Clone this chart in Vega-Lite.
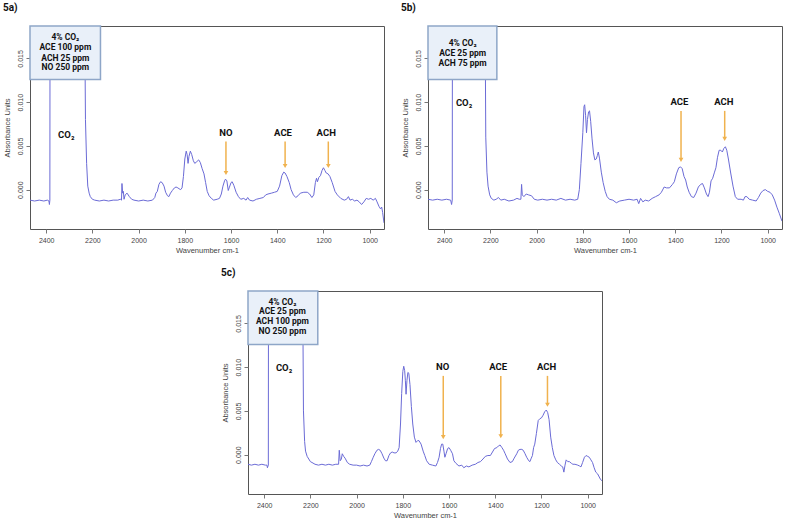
{
"$schema": "https://vega.github.io/schema/vega-lite/v6.json",
"padding": {"left": 2, "top": 2, "right": 0, "bottom": 0},
"background": "white",
"config": {
 "view": {"stroke": "#555", "strokeWidth": 1},
 "axis": {"labelFont": "Liberation Sans", "labelFontSize": 7, "labelColor": "#444", "titleFont": "Liberation Sans", "titleFontSize": 7.5, "titleFontWeight": "normal", "titleColor": "#444", "tickColor": "#777", "tickSize": 4, "domain": false, "grid": false, "labelPadding": 2, "titlePadding": 4, "labelFlush": false, "labelOverlap": false},
 "title": {"font": "Roboto", "fontSize": 10, "fontWeight": "bold", "anchor": "start", "color": "#111", "offset": 12},
 "text": {"font": "Roboto", "fontWeight": "bold", "color": "#111"}
},
"datasets": {
 "specA": [{"x":2470,"y":-0.0012},{"x":2450,"y":-0.0013},{"x":2430,"y":-0.0012},{"x":2410,"y":-0.0013},{"x":2395,"y":-0.0012},{"x":2388,"y":-0.0013},{"x":2386,"y":-0.0017},{"x":2384,"y":-0.0012},{"x":2383,"y":0.03},{"x":2236,"y":0.03},{"x":2230,"y":0.008},{"x":2225,"y":0.003},{"x":2220,"y":0.0004},{"x":2214,"y":-0.0004},{"x":2209,"y":-0.0008},{"x":2200,"y":-0.0011},{"x":2190,"y":-0.0012},{"x":2170,"y":-0.0013},{"x":2150,"y":-0.0012},{"x":2130,"y":-0.0013},{"x":2110,"y":-0.0012},{"x":2090,"y":-0.0012},{"x":2079,"y":-0.0011},{"x":2074,"y":-0.0012},{"x":2072,"y":0.0007},{"x":2069,"y":-0.0004},{"x":2066,"y":-0.0002},{"x":2063,"y":-0.0011},{"x":2058,"y":-0.0006},{"x":2050,"y":-0.0004},{"x":2040,"y":-0.0008},{"x":2030,"y":-0.0011},{"x":2020,"y":-0.0012},{"x":2000,"y":-0.0013},{"x":1980,"y":-0.0012},{"x":1960,"y":-0.0013},{"x":1940,"y":-0.0012},{"x":1930,"y":-0.0009},{"x":1925,"y":-0.0004},{"x":1919,"y":-0.0002},{"x":1912,"y":0.0006},{"x":1905,"y":0.0009},{"x":1898,"y":0.0008},{"x":1890,"y":0.0004},{"x":1883,"y":-0.0003},{"x":1875,"y":-0.0007},{"x":1869,"y":-0.0008},{"x":1862,"y":-0.0004},{"x":1854,"y":-0.0001},{"x":1845,"y":0.0002},{"x":1838,"y":0.0003},{"x":1830,"y":0.0002},{"x":1825,"y":0.0001},{"x":1818,"y":0.0},{"x":1812,"y":0.0002},{"x":1806,"y":0.0015},{"x":1800,"y":0.0035},{"x":1794,"y":0.0044},{"x":1790,"y":0.004},{"x":1786,"y":0.003},{"x":1782,"y":0.0038},{"x":1776,"y":0.0044},{"x":1770,"y":0.004},{"x":1763,"y":0.0033},{"x":1757,"y":0.003},{"x":1748,"y":0.0032},{"x":1740,"y":0.0034},{"x":1733,"y":0.0031},{"x":1725,"y":0.0024},{"x":1717,"y":0.0018},{"x":1710,"y":0.0008},{"x":1703,"y":-0.0002},{"x":1695,"y":-0.0007},{"x":1685,"y":-0.001},{"x":1675,"y":-0.0012},{"x":1660,"y":-0.0011},{"x":1650,"y":-0.001},{"x":1642,"y":-0.0005},{"x":1635,"y":0.0004},{"x":1628,"y":0.001},{"x":1624,"y":0.0012},{"x":1618,"y":0.001},{"x":1612,"y":-0.0001},{"x":1608,"y":0.0002},{"x":1600,"y":0.0008},{"x":1595,"y":0.0009},{"x":1588,"y":0.0005},{"x":1578,"y":-0.0003},{"x":1568,"y":-0.0008},{"x":1558,"y":-0.0011},{"x":1545,"y":-0.001},{"x":1535,"y":-0.0012},{"x":1528,"y":-0.0009},{"x":1520,"y":-0.0012},{"x":1505,"y":-0.0013},{"x":1490,"y":-0.0011},{"x":1475,"y":-0.001},{"x":1460,"y":-0.0009},{"x":1450,"y":-0.0006},{"x":1440,"y":-0.0005},{"x":1425,"y":-0.0004},{"x":1412,"y":-0.0003},{"x":1400,"y":-0.0002},{"x":1390,"y":0.0004},{"x":1380,"y":0.0016},{"x":1372,"y":0.002},{"x":1366,"y":0.0019},{"x":1358,"y":0.0015},{"x":1348,"y":0.0008},{"x":1340,"y":0.0},{"x":1330,"y":-0.0006},{"x":1320,"y":-0.0009},{"x":1310,"y":-0.0007},{"x":1300,"y":-0.0004},{"x":1285,"y":-0.0003},{"x":1270,"y":-0.0003},{"x":1260,"y":-0.0005},{"x":1250,"y":-0.0009},{"x":1242,"y":-0.0006},{"x":1235,"y":0.0008},{"x":1230,"y":0.0013},{"x":1226,"y":0.0009},{"x":1220,"y":0.0014},{"x":1213,"y":0.0016},{"x":1206,"y":0.0022},{"x":1200,"y":0.0025},{"x":1194,"y":0.0022},{"x":1188,"y":0.0019},{"x":1180,"y":0.0018},{"x":1172,"y":0.0015},{"x":1162,"y":0.0008},{"x":1150,"y":-0.0002},{"x":1140,"y":-0.0006},{"x":1125,"y":-0.001},{"x":1110,"y":-0.0012},{"x":1100,"y":-0.0011},{"x":1092,"y":-0.0008},{"x":1085,"y":-0.0012},{"x":1075,"y":-0.0011},{"x":1065,"y":-0.0013},{"x":1055,"y":-0.0012},{"x":1045,"y":-0.0014},{"x":1035,"y":-0.0017},{"x":1025,"y":-0.0014},{"x":1015,"y":-0.001},{"x":1005,"y":-0.0011},{"x":995,"y":-0.001},{"x":985,"y":-0.0012},{"x":975,"y":-0.001},{"x":968,"y":-0.0014},{"x":960,"y":-0.0019},{"x":953,"y":-0.0022},{"x":948,"y":-0.002},{"x":944,"y":-0.0026},{"x":938,"y":-0.0038}],
 "specB": [{"x":2470,"y":-0.0011},{"x":2450,"y":-0.0012},{"x":2430,"y":-0.0011},{"x":2410,"y":-0.0012},{"x":2390,"y":-0.0011},{"x":2372,"y":-0.0012},{"x":2368,"y":-0.0017},{"x":2365,"y":-0.0012},{"x":2364,"y":0.03},{"x":2225,"y":0.03},{"x":2220,"y":0.006},{"x":2215,"y":0.002},{"x":2210,"y":0.0004},{"x":2203,"y":-0.0006},{"x":2196,"y":-0.001},{"x":2185,"y":-0.0012},{"x":2175,"y":-0.0011},{"x":2165,"y":-0.0009},{"x":2155,"y":-0.0012},{"x":2140,"y":-0.0011},{"x":2120,"y":-0.0013},{"x":2100,"y":-0.0012},{"x":2085,"y":-0.001},{"x":2075,"y":-0.0011},{"x":2068,"y":-0.0011},{"x":2065,"y":0.0006},{"x":2062,"y":-0.0006},{"x":2055,"y":-0.0008},{"x":2045,"y":-0.0005},{"x":2035,"y":-0.0006},{"x":2022,"y":-0.0007},{"x":2010,"y":-0.0011},{"x":1995,"y":-0.0012},{"x":1975,"y":-0.0011},{"x":1955,"y":-0.0012},{"x":1935,"y":-0.0011},{"x":1915,"y":-0.0012},{"x":1895,"y":-0.001},{"x":1875,"y":-0.0012},{"x":1855,"y":-0.0011},{"x":1835,"y":-0.0012},{"x":1822,"y":-0.0011},{"x":1815,"y":0.0},{"x":1808,"y":0.003},{"x":1800,"y":0.0065},{"x":1795,"y":0.0095},{"x":1792,"y":0.0097},{"x":1788,"y":0.0085},{"x":1784,"y":0.0065},{"x":1780,"y":0.008},{"x":1775,"y":0.0089},{"x":1771,"y":0.009},{"x":1766,"y":0.0078},{"x":1760,"y":0.0058},{"x":1754,"y":0.0042},{"x":1748,"y":0.0034},{"x":1742,"y":0.0035},{"x":1737,"y":0.0039},{"x":1733,"y":0.0043},{"x":1728,"y":0.0036},{"x":1720,"y":0.002},{"x":1712,"y":0.0008},{"x":1703,"y":-0.0002},{"x":1695,"y":-0.0008},{"x":1685,"y":-0.0011},{"x":1670,"y":-0.0012},{"x":1655,"y":-0.0015},{"x":1640,"y":-0.0013},{"x":1620,"y":-0.0012},{"x":1600,"y":-0.0011},{"x":1580,"y":-0.0012},{"x":1565,"y":-0.0011},{"x":1558,"y":-0.0016},{"x":1550,"y":-0.001},{"x":1540,"y":-0.0014},{"x":1530,"y":-0.0012},{"x":1515,"y":-0.0013},{"x":1500,"y":-0.001},{"x":1485,"y":-0.0008},{"x":1470,"y":-0.0006},{"x":1460,"y":-0.0003},{"x":1448,"y":0.0003},{"x":1438,"y":0.0002},{"x":1425,"y":0.0002},{"x":1412,"y":0.0006},{"x":1404,"y":0.0009},{"x":1395,"y":0.0018},{"x":1385,"y":0.0025},{"x":1377,"y":0.0026},{"x":1370,"y":0.0024},{"x":1362,"y":0.0015},{"x":1355,"y":0.0011},{"x":1348,"y":0.0003},{"x":1340,"y":-0.0003},{"x":1330,"y":-0.0008},{"x":1320,"y":-0.0009},{"x":1310,"y":-0.0004},{"x":1300,"y":0.0003},{"x":1290,"y":0.0006},{"x":1282,"y":0.0007},{"x":1274,"y":0.0002},{"x":1265,"y":-0.0005},{"x":1258,"y":-0.0008},{"x":1252,"y":-0.0003},{"x":1245,"y":0.001},{"x":1238,"y":0.0013},{"x":1230,"y":0.002},{"x":1224,"y":0.0025},{"x":1217,"y":0.0037},{"x":1210,"y":0.0045},{"x":1203,"y":0.0045},{"x":1196,"y":0.0043},{"x":1190,"y":0.0047},{"x":1183,"y":0.0049},{"x":1177,"y":0.0045},{"x":1170,"y":0.0035},{"x":1160,"y":0.0019},{"x":1150,"y":0.0004},{"x":1140,"y":-0.0008},{"x":1130,"y":-0.0011},{"x":1115,"y":-0.0011},{"x":1105,"y":-0.0012},{"x":1098,"y":-0.0008},{"x":1090,"y":-0.0008},{"x":1080,"y":-0.0011},{"x":1065,"y":-0.0012},{"x":1050,"y":-0.0013},{"x":1040,"y":-0.0009},{"x":1030,"y":-0.0004},{"x":1020,"y":-0.0001},{"x":1010,"y":0.0},{"x":1000,"y":-0.0002},{"x":990,"y":-0.0003},{"x":980,"y":-0.0006},{"x":970,"y":-0.0012},{"x":960,"y":-0.002},{"x":950,"y":-0.0027},{"x":938,"y":-0.0036}],
 "specC": [{"x":2470,"y":-0.0011},{"x":2455,"y":-0.0012},{"x":2440,"y":-0.0011},{"x":2425,"y":-0.0012},{"x":2410,"y":-0.0011},{"x":2395,"y":-0.0012},{"x":2388,"y":-0.0012},{"x":2386,"y":-0.0015},{"x":2382,"y":-0.0012},{"x":2381,"y":0.03},{"x":2236,"y":0.03},{"x":2230,"y":0.005},{"x":2225,"y":0.0015},{"x":2221,"y":0.0004},{"x":2214,"y":-0.0002},{"x":2207,"y":-0.0005},{"x":2200,"y":-0.0008},{"x":2193,"y":-0.0009},{"x":2180,"y":-0.0011},{"x":2165,"y":-0.0012},{"x":2150,"y":-0.0011},{"x":2135,"y":-0.0012},{"x":2120,"y":-0.0011},{"x":2105,"y":-0.0012},{"x":2090,"y":-0.0011},{"x":2078,"y":-0.0011},{"x":2075,"y":0.0005},{"x":2071,"y":-0.0007},{"x":2066,"y":-0.0005},{"x":2062,"y":0.0001},{"x":2056,"y":-0.0002},{"x":2050,"y":-0.0004},{"x":2040,"y":-0.0009},{"x":2030,"y":-0.0011},{"x":2015,"y":-0.0012},{"x":2000,"y":-0.0012},{"x":1985,"y":-0.0013},{"x":1970,"y":-0.0012},{"x":1955,"y":-0.0013},{"x":1943,"y":-0.0012},{"x":1936,"y":-0.0008},{"x":1928,"y":-0.0003},{"x":1921,"y":0.0001},{"x":1912,"y":0.0005},{"x":1905,"y":0.0006},{"x":1898,"y":0.0005},{"x":1890,"y":0.0001},{"x":1882,"y":-0.0004},{"x":1875,"y":-0.0007},{"x":1868,"y":-0.0007},{"x":1860,"y":-0.0001},{"x":1853,"y":0.0002},{"x":1846,"y":0.0003},{"x":1838,"y":0.0002},{"x":1829,"y":0.0002},{"x":1822,"y":0.0004},{"x":1816,"y":0.0008},{"x":1810,"y":0.0035},{"x":1805,"y":0.007},{"x":1800,"y":0.0095},{"x":1796,"y":0.0101},{"x":1792,"y":0.0096},{"x":1789,"y":0.0085},{"x":1786,"y":0.0069},{"x":1782,"y":0.0085},{"x":1778,"y":0.0094},{"x":1774,"y":0.0093},{"x":1769,"y":0.008},{"x":1763,"y":0.0055},{"x":1757,"y":0.0035},{"x":1750,"y":0.002},{"x":1743,"y":0.0014},{"x":1736,"y":0.0016},{"x":1730,"y":0.0016},{"x":1721,"y":0.0012},{"x":1712,"y":0.0004},{"x":1705,"y":-0.0001},{"x":1697,"y":-0.0007},{"x":1686,"y":-0.0011},{"x":1672,"y":-0.0012},{"x":1657,"y":-0.0013},{"x":1650,"y":-0.0009},{"x":1643,"y":-0.0003},{"x":1637,"y":0.0007},{"x":1632,"y":0.0012},{"x":1627,"y":0.0012},{"x":1622,"y":0.0004},{"x":1618,"y":-0.0003},{"x":1613,"y":0.0001},{"x":1606,"y":0.0007},{"x":1600,"y":0.0008},{"x":1593,"y":0.0005},{"x":1585,"y":0.0001},{"x":1579,"y":-0.0007},{"x":1570,"y":-0.001},{"x":1557,"y":-0.0013},{"x":1545,"y":-0.0012},{"x":1536,"y":-0.0015},{"x":1525,"y":-0.0013},{"x":1514,"y":-0.0014},{"x":1500,"y":-0.0012},{"x":1486,"y":-0.0011},{"x":1475,"y":-0.0009},{"x":1464,"y":-0.0008},{"x":1453,"y":-0.0005},{"x":1443,"y":-0.0002},{"x":1432,"y":-0.0001},{"x":1421,"y":-0.0001},{"x":1412,"y":0.0003},{"x":1403,"y":0.0007},{"x":1393,"y":0.0008},{"x":1386,"y":0.001},{"x":1379,"y":0.0011},{"x":1371,"y":0.0008},{"x":1364,"y":0.0005},{"x":1357,"y":0.0001},{"x":1347,"y":-0.0005},{"x":1336,"y":-0.0009},{"x":1326,"y":-0.0008},{"x":1318,"y":-0.0004},{"x":1307,"y":0.0001},{"x":1300,"y":0.0005},{"x":1293,"y":0.0006},{"x":1285,"y":0.0006},{"x":1279,"y":0.0005},{"x":1271,"y":0.0001},{"x":1264,"y":-0.0003},{"x":1255,"y":-0.0007},{"x":1250,"y":-0.0008},{"x":1244,"y":-0.0004},{"x":1239,"y":-0.0001},{"x":1234,"y":0.0008},{"x":1229,"y":0.0012},{"x":1222,"y":0.0024},{"x":1214,"y":0.0039},{"x":1207,"y":0.0041},{"x":1200,"y":0.0042},{"x":1193,"y":0.0045},{"x":1186,"y":0.0049},{"x":1179,"y":0.0051},{"x":1173,"y":0.0048},{"x":1167,"y":0.004},{"x":1160,"y":0.002},{"x":1153,"y":0.0008},{"x":1146,"y":-0.0001},{"x":1138,"y":-0.0006},{"x":1131,"y":-0.0009},{"x":1122,"y":-0.0011},{"x":1114,"y":-0.0013},{"x":1108,"y":-0.0014},{"x":1103,"y":-0.002},{"x":1098,"y":-0.0012},{"x":1093,"y":-0.0006},{"x":1086,"y":-0.0008},{"x":1079,"y":-0.0008},{"x":1070,"y":-0.001},{"x":1064,"y":-0.0011},{"x":1055,"y":-0.0011},{"x":1043,"y":-0.0012},{"x":1035,"y":-0.0013},{"x":1029,"y":-0.0014},{"x":1022,"y":-0.0009},{"x":1014,"y":-0.0003},{"x":1007,"y":-0.0001},{"x":1000,"y":-0.0002},{"x":993,"y":-0.0003},{"x":986,"y":-0.0006},{"x":979,"y":-0.0009},{"x":972,"y":-0.0015},{"x":965,"y":-0.002},{"x":957,"y":-0.0022},{"x":945,"y":-0.0028},{"x":938,"y":-0.003}],
 "boxA": [{"x":2470,"x2":2165,"y":0.0187,"y2":0.0126}],
 "boxB": [{"x":2470,"x2":2172,"y":0.0187,"y2":0.0126}],
 "boxC": [{"x":2470,"x2":2168,"y":0.0187,"y2":0.0126}],
 "legA": [{"x":2317,"y":0.0175,"t":"4% CO₂"},{"x":2317,"y":0.01625,"t":"ACE 100 ppm"},{"x":2317,"y":0.0151,"t":"ACH 25 ppm"},{"x":2317,"y":0.01396,"t":"NO 250 ppm"}],
 "legB": [{"x":2320,"y":0.0168,"t":"4% CO₂"},{"x":2320,"y":0.01565,"t":"ACE 25 ppm"},{"x":2320,"y":0.0145,"t":"ACH 75 ppm"}],
 "legC": [{"x":2321,"y":0.0175,"t":"4% CO₂"},{"x":2321,"y":0.01636,"t":"ACE 25 ppm"},{"x":2321,"y":0.01522,"t":"ACH 100 ppm"},{"x":2321,"y":0.01415,"t":"NO 250 ppm"}],
 "lblA": [{"x":2313,"y":0.0063,"t":"CO₂"},{"x":1622,"y":0.0065,"t":"NO"},{"x":1375,"y":0.0065,"t":"ACE"},{"x":1188,"y":0.0065,"t":"ACH"}],
 "lblB": [{"x":2314,"y":0.0099,"t":"CO₂"},{"x":1382,"y":0.01,"t":"ACE"},{"x":1190,"y":0.01,"t":"ACH"}],
 "lblC": [{"x":2314,"y":0.0099,"t":"CO₂"},{"x":1628,"y":0.01,"t":"NO"},{"x":1387,"y":0.01,"t":"ACE"},{"x":1178,"y":0.01,"t":"ACH"}],
 "arrA": [{"x":1622,"y":0.0055,"y2":0.0019},{"x":1366,"y":0.0055,"y2":0.0027},{"x":1179,"y":0.0055,"y2":0.0027}],
 "tipA": [{"x":1622,"y":0.0019},{"x":1366,"y":0.0027},{"x":1179,"y":0.0027}],
 "arrB": [{"x":1375,"y":0.009,"y2":0.0034},{"x":1186,"y":0.009,"y2":0.0058}],
 "tipB": [{"x":1375,"y":0.0034},{"x":1186,"y":0.0058}],
 "arrC": [{"x":1625,"y":0.009,"y2":0.002},{"x":1376,"y":0.009,"y2":0.0021},{"x":1174,"y":0.009,"y2":0.0057}],
 "tipC": [{"x":1625,"y":0.002},{"x":1376,"y":0.0021},{"x":1174,"y":0.0057}]
},
"vconcat": [
 {"hconcat": [
  {"title": {"text": "5a)"}, "width": 354, "height": 203,
   "encoding": {
    "x": {"field": "x", "type": "quantitative", "title": "Wavenumber cm-1", "scale": {"domain": [938, 2470], "reverse": true, "nice": false, "zero": false}, "axis": {"values": [2400, 2200, 2000, 1800, 1600, 1400, 1200, 1000], "format": "d", "labelPadding": 3, "titlePadding": 3}},
    "y": {"field": "y", "type": "quantitative", "title": "Absorbance Units", "scale": {"domain": [-0.0045, 0.0187], "nice": false, "zero": false}, "axis": {"values": [0, 0.005, 0.01, 0.015], "format": ".3f", "labelAngle": -90, "labelAlign": "center", "labelBaseline": "bottom", "labelPadding": 3, "titlePadding": 5}}},
   "layer": [
    {"data": {"name": "specA"}, "mark": {"type": "line", "clip": true, "color": "#6b6bd6", "strokeWidth": 1}},
    {"data": {"name": "boxA"}, "mark": {"type": "rect", "fill": "#e9f0f9", "stroke": "#8ea6c8", "strokeWidth": 1.5}, "encoding": {"x2": {"field": "x2"}, "y2": {"field": "y2"}}},
    {"data": {"name": "legA"}, "mark": {"type": "text", "fontSize": 8.5, "baseline": "middle"}, "encoding": {"text": {"field": "t"}}},
    {"data": {"name": "lblA"}, "mark": {"type": "text", "fontSize": 9.5, "baseline": "middle"}, "encoding": {"text": {"field": "t"}}},
    {"data": {"name": "arrA"}, "mark": {"type": "rule", "color": "#f0b24e", "strokeWidth": 1.5}, "encoding": {"y2": {"field": "y2"}}},
    {"data": {"name": "tipA"}, "mark": {"type": "point", "shape": "triangle-down", "filled": true, "color": "#f0b24e", "size": 22, "opacity": 1}}
   ]},
  {"title": {"text": "5b)"}, "width": 354, "height": 203,
   "encoding": {
    "x": {"field": "x", "type": "quantitative", "title": "Wavenumber cm-1", "scale": {"domain": [938, 2470], "reverse": true, "nice": false, "zero": false}, "axis": {"values": [2400, 2200, 2000, 1800, 1600, 1400, 1200, 1000], "format": "d", "labelPadding": 3, "titlePadding": 3}},
    "y": {"field": "y", "type": "quantitative", "title": "Absorbance Units", "scale": {"domain": [-0.0045, 0.0187], "nice": false, "zero": false}, "axis": {"values": [0, 0.005, 0.01, 0.015], "format": ".3f", "labelAngle": -90, "labelAlign": "center", "labelBaseline": "bottom", "labelPadding": 3, "titlePadding": 5}}},
   "layer": [
    {"data": {"name": "specB"}, "mark": {"type": "line", "clip": true, "color": "#6b6bd6", "strokeWidth": 1}},
    {"data": {"name": "boxB"}, "mark": {"type": "rect", "fill": "#e9f0f9", "stroke": "#8ea6c8", "strokeWidth": 1.5}, "encoding": {"x2": {"field": "x2"}, "y2": {"field": "y2"}}},
    {"data": {"name": "legB"}, "mark": {"type": "text", "fontSize": 8.5, "baseline": "middle"}, "encoding": {"text": {"field": "t"}}},
    {"data": {"name": "lblB"}, "mark": {"type": "text", "fontSize": 9.5, "baseline": "middle"}, "encoding": {"text": {"field": "t"}}},
    {"data": {"name": "arrB"}, "mark": {"type": "rule", "color": "#f0b24e", "strokeWidth": 1.5}, "encoding": {"y2": {"field": "y2"}}},
    {"data": {"name": "tipB"}, "mark": {"type": "point", "shape": "triangle-down", "filled": true, "color": "#f0b24e", "size": 22, "opacity": 1}}
   ]}
 ], "spacing": 15},
 {"hconcat": [
  {"width": 190, "height": 10, "data": {"values": []}, "mark": "point", "view": {"stroke": null}},
  {"title": {"text": "5c)"}, "width": 354, "height": 203,
   "encoding": {
    "x": {"field": "x", "type": "quantitative", "title": "Wavenumber cm-1", "scale": {"domain": [938, 2470], "reverse": true, "nice": false, "zero": false}, "axis": {"values": [2400, 2200, 2000, 1800, 1600, 1400, 1200, 1000], "format": "d", "labelPadding": 3, "titlePadding": 3}},
    "y": {"field": "y", "type": "quantitative", "title": "Absorbance Units", "scale": {"domain": [-0.0045, 0.0187], "nice": false, "zero": false}, "axis": {"values": [0, 0.005, 0.01, 0.015], "format": ".3f", "labelAngle": -90, "labelAlign": "center", "labelBaseline": "bottom", "labelPadding": 3, "titlePadding": 5}}},
   "layer": [
    {"data": {"name": "specC"}, "mark": {"type": "line", "clip": true, "color": "#6b6bd6", "strokeWidth": 1}},
    {"data": {"name": "boxC"}, "mark": {"type": "rect", "fill": "#e9f0f9", "stroke": "#8ea6c8", "strokeWidth": 1.5}, "encoding": {"x2": {"field": "x2"}, "y2": {"field": "y2"}}},
    {"data": {"name": "legC"}, "mark": {"type": "text", "fontSize": 8.5, "baseline": "middle"}, "encoding": {"text": {"field": "t"}}},
    {"data": {"name": "lblC"}, "mark": {"type": "text", "fontSize": 9.5, "baseline": "middle"}, "encoding": {"text": {"field": "t"}}},
    {"data": {"name": "arrC"}, "mark": {"type": "rule", "color": "#f0b24e", "strokeWidth": 1.5}, "encoding": {"y2": {"field": "y2"}}},
    {"data": {"name": "tipC"}, "mark": {"type": "point", "shape": "triangle-down", "filled": true, "color": "#f0b24e", "size": 22, "opacity": 1}}
   ]}
 ], "spacing": 0}
], "spacing": 13
}
